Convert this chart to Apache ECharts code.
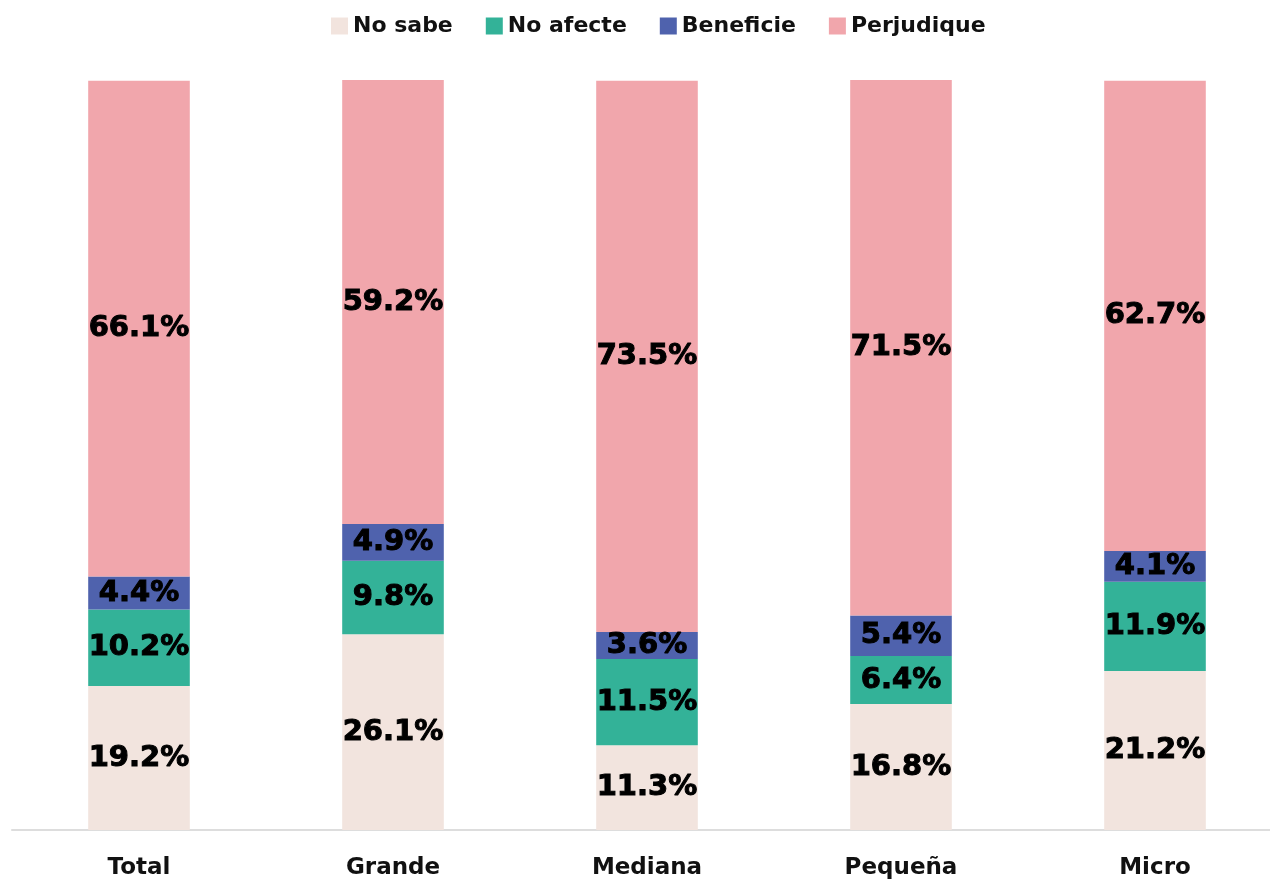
<!DOCTYPE html>
<html><head><meta charset="utf-8">
<script src="https://cdn.jsdelivr.net/npm/echarts@6/dist/echarts.min.js"></script>
<style>html,body{margin:0;padding:0;background:#fff;overflow:hidden}#c{width:1294px;height:881px}</style>
</head><body><div id="c"></div>
<script>
const categories = ['Total','Grande','Mediana','Pequeña','Micro'];
const noSabe = [19.2, 26.1, 11.3, 16.8, 21.2];
const noAfecte = [10.2, 9.8, 11.5, 6.4, 11.9];
const beneficie = [4.4, 4.9, 3.6, 5.4, 4.1];
const perjudique = [66.1, 59.2, 73.5, 71.5, 62.7];
const seriesNames = ['No sabe','No afecte','Beneficie','Perjudique'];
const colors = ['#F2E4DE','#33B298','#4F62AD','#F1A6AC'];
const font = 'DejaVu Sans';
const chart = echarts.init(document.getElementById('c'));
function mk(name, data, color){
  return {name, type:'bar', stack:'s', data, barWidth:'40%',
    itemStyle:{color},
    label:{show:true, position:'inside', formatter:p=>p.value.toFixed(1)+'%',
      color:'#000', fontFamily:font, fontWeight:'bold', fontSize:29, overflow:'none',
      textBorderColor:'#000', textBorderWidth:1},
    emphasis:{disabled:true}};
}
chart.setOption({
  animation:false,
  color: colors,
  legend:{top:10, left:326, itemWidth:17, itemHeight:17, itemGap:33, icon:'rect',
    textStyle:{fontFamily:font, fontWeight:'bold', fontSize:22, color:'#111'}},
  grid:{left:12, width:1270, top:80, bottom:51, containLabel:false},
  xAxis:{type:'category', data:categories,
    axisLine:{lineStyle:{color:'#ddd', width:2}}, axisTick:{show:false},
    axisLabel:{margin:27, fontFamily:font, fontWeight:'bold', fontSize:23, color:'#111'}},
  yAxis:{type:'value', min:0, max:100, show:false, splitLine:{show:false}},
  series:[mk(seriesNames[0],noSabe,colors[0]), mk(seriesNames[1],noAfecte,colors[1]),
          mk(seriesNames[2],beneficie,colors[2]), mk(seriesNames[3],perjudique,colors[3])]
});
</script></body></html>
